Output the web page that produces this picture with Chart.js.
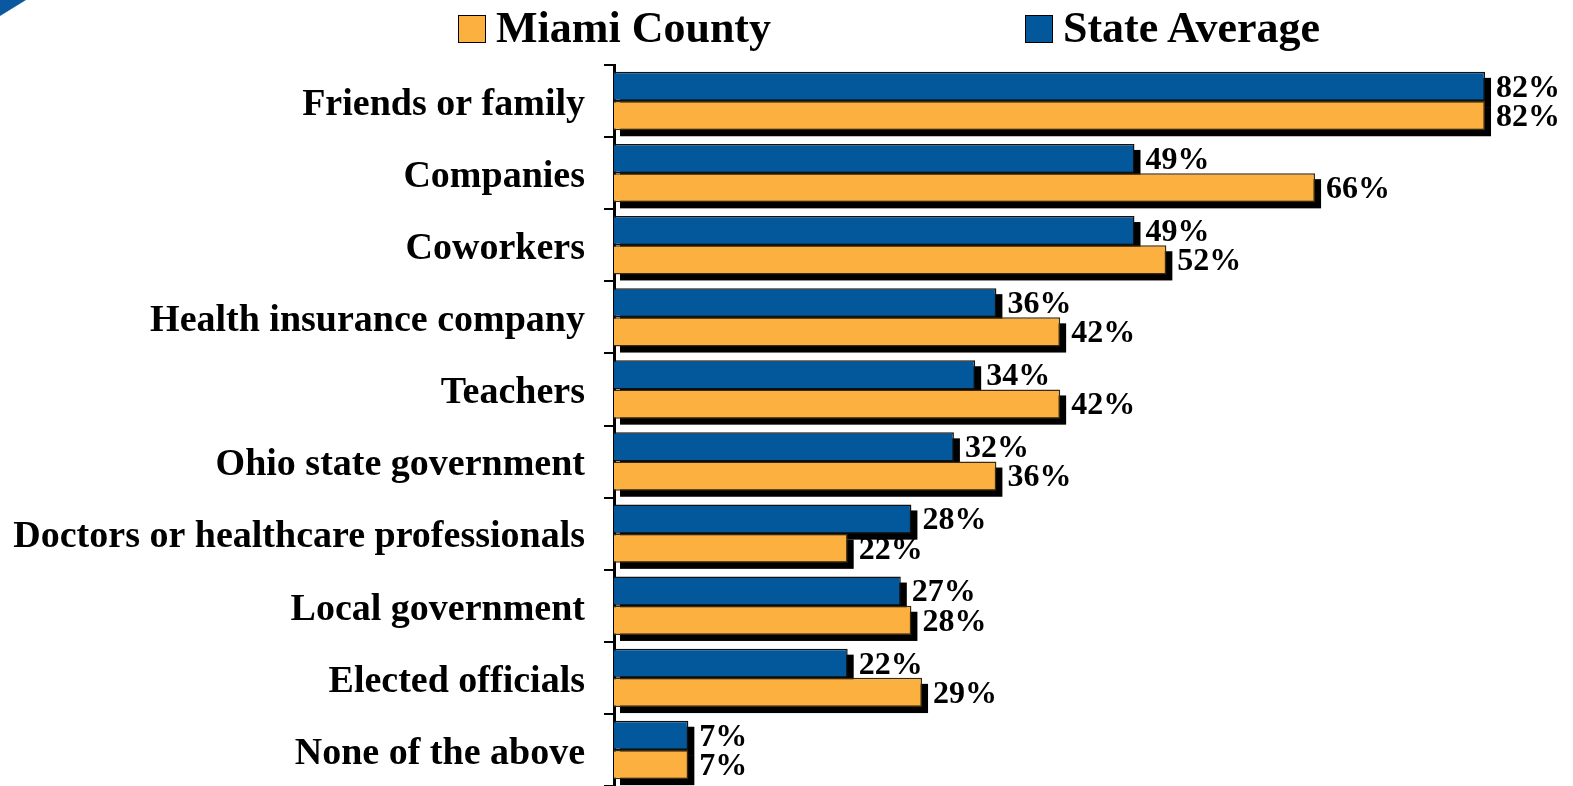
<!DOCTYPE html>
<html>
<head>
<meta charset="utf-8">
<script src="https://cdn.jsdelivr.net/npm/chart.js@4"></script>
<style>
  body { margin: 0; background: #fff; }
  #wrap { position: relative; width: 1573px; height: 786px; }
  #corner { position: absolute; left: 0; top: 0; width: 26px; height: 16px;
            background: linear-gradient(to bottom right, #0b58a0 0%, #0b58a0 48%, rgba(11,88,160,0) 52%); }
  .leg { position: absolute; top: 6px; display: flex; align-items: flex-start;
         font-family: 'Liberation Serif', serif; font-weight: bold; font-size: 44px; line-height: 44px; color: #000; }
  .leg span.box { display: inline-block; width: 26px; height: 26px; border: 1.5px solid #000; margin: 9px 10px 0 0; }
</style>
</head>
<body>
<div id="wrap">
  <canvas id="grafico"></canvas>
  <div id="corner"></div>
  <div id="leyenda"></div>
</div>
<script>
const categorias = ['Friends or family', 'Companies', 'Coworkers', 'Health insurance company', 'Teachers',
    'Ohio state government', 'Doctors or healthcare professionals', 'Local government', 'Elected officials', 'None of the above'];
const promedioEstatal = [82, 49, 49, 36, 34, 32, 28, 27, 22, 7];
const condadoMiami = [82, 66, 52, 42, 42, 36, 22, 28, 29, 7];

const AZUL = '#03579b';
const NARANJA = '#fbb040';

// sombra negra detras de cada barra + etiquetas de valor
const sombras = {
    id: 'sombras',
    beforeDatasetsDraw(chart) {
        const ctx = chart.ctx;
        ctx.save();
        ctx.fillStyle = '#000';
        chart.data.datasets.forEach((ds, i) => {
            chart.getDatasetMeta(i).data.forEach(bar => {
                const p = bar.getProps(['x', 'y', 'base', 'height'], true);
                ctx.fillRect(p.base + 6, p.y - p.height / 2 + 6, p.x - p.base, p.height);
            });
        });
        ctx.restore();
    },
    afterDatasetsDraw(chart) {
        const ctx = chart.ctx;
        ctx.save();
        ctx.fillStyle = '#000';
        ctx.font = 'bold 32px "Liberation Serif"';
        ctx.textAlign = 'left';
        ctx.textBaseline = 'middle';
        chart.data.datasets.forEach((ds, i) => {
            chart.getDatasetMeta(i).data.forEach((bar, j) => {
                const p = bar.getProps(['x', 'y'], true);
                ctx.fillText(ds.data[j] + '%', p.x + 11, p.y + 2);
            });
        });
        ctx.restore();
    }
};

// leyenda en html (Miami County primero)
const leyendaHtml = {
    id: 'leyendaHtml',
    afterUpdate(chart) {
        const cont = document.getElementById('leyenda');
        cont.innerHTML = '';
        const posiciones = [458, 1025];
        chart.data.datasets.slice().reverse().forEach((ds, k) => {
            const d = document.createElement('div');
            d.className = 'leg';
            d.style.left = posiciones[k] + 'px';
            d.innerHTML = '<span class="box" style="background:' + ds.backgroundColor + '"></span>' + ds.label;
            cont.appendChild(d);
        });
    }
};

const elemento = document.getElementById('grafico').getContext('2d');
const myChart = new Chart(elemento, {
    type: 'bar',
    data: {
        labels: categorias,
        datasets: [{
            label: 'State Average',
            data: promedioEstatal,
            backgroundColor: AZUL,
            borderColor: '#111',
            borderWidth: 1.5
        }, {
            label: 'Miami County',
            data: condadoMiami,
            backgroundColor: NARANJA,
            borderColor: '#3a2a10',
            borderWidth: 1.5
        }]
    },
    options: {
        indexAxis: 'y',
        responsive: true,
        maintainAspectRatio: false,
        animation: false,
        layout: { padding: { top: 65, right: 3, left: 0, bottom: 0 } },
        datasets: { bar: { categoryPercentage: 0.81, barPercentage: 1.0 } },
        scales: {
            x: { display: false, min: 0, max: 90 },
            y: {
                ticks: {
                    color: '#000',
                    padding: 19,
                    labelOffset: 4,
                    font: { family: 'Liberation Serif', size: 38, weight: 'bold' }
                },
                grid: { drawOnChartArea: false, tickLength: 10, color: '#000', lineWidth: 2 },
                border: { color: '#000', width: 3 },
                afterFit(scale) {
                    scale.width = 614;
                    scale.paddingTop = 0;
                    scale.paddingBottom = 0;
                }
            }
        },
        plugins: {
            legend: { display: false },
            tooltip: { enabled: false }
        }
    },
    plugins: [sombras, leyendaHtml]
});
</script>
</body>
</html>
